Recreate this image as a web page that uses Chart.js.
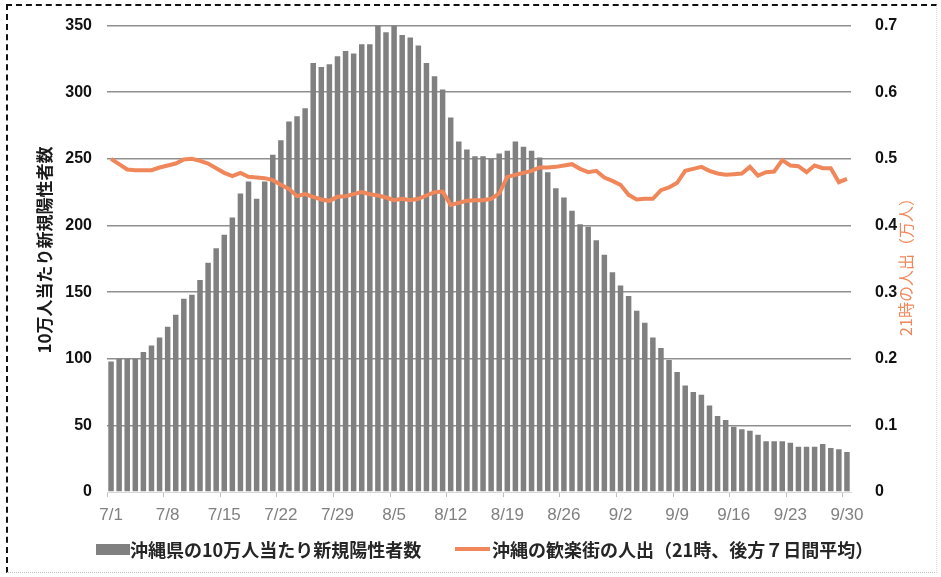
<!DOCTYPE html>
<html>
<head>
<meta charset="utf-8">
<script src="https://cdn.jsdelivr.net/npm/chart.js@4/dist/chart.umd.min.js"></script>
<style>
  html, body { margin: 0; padding: 0; background: #fff; }
  #wrap { position: relative; width: 941px; height: 577px; overflow: hidden; }
  #frame { position: absolute; left: 6px; top: 4px; width: 928px; height: 566px;
    border-top: 2px dashed #111; border-left: 2px dashed #111;
    border-bottom: 1px dotted #bbb; border-right: 1px dotted #ddd; }
  #chart { position: absolute; left: 0; top: 0; }
  .lg { position: absolute; top: 536px; display: flex; align-items: center; white-space: nowrap;
    font: bold 18px "Noto Sans CJK JP", sans-serif; color: #262626; }
  .lg .box { width: 34px; height: 11px; background: #808080; }
  .lg .ln { width: 35px; height: 4px; background: #F0875A; margin-right: 2px; }
</style>
</head>
<body>
<div id="wrap">
  <div id="frame"></div>
  <canvas id="chart" width="941" height="577"></canvas>
  <div class="lg" style="left:96px"><span class="box"></span><span id="lg1"></span></div>
  <div class="lg" style="left:455px"><span class="ln"></span><span id="lg2"></span></div>
</div>
<script>
// categories: 7/1 .. 9/30
const months = [7, 8, 9];
const monthDays = [31, 31, 30];
const dates = [];
months.forEach((m, i) => {
  for (let d = 1; d <= monthDays[i]; d++) dates.push(m + '/' + d);
});
const tickLabels = ['7/1', '7/8', '7/15', '7/22', '7/29', '8/5', '8/12', '8/19', '8/26', '9/2', '9/9', '9/16', '9/23', '9/30'];

// 沖縄県の10万人当たり新規陽性者数
const cases = [
  98, 100, 100, 100, 105, 110, 116, 124, 133, 145, 148, 159, 172, 183, 193, 206, 224, 233, 220, 233, 253, 264, 278,
  282, 288, 322, 319, 321, 327, 331, 329, 336, 336, 350, 345, 350, 343, 341, 335, 322, 312, 302, 281, 263, 257, 252,
  252, 250, 254, 256, 263, 259, 256, 251, 240, 228, 221, 211, 201, 199, 189, 178, 165, 155, 147, 136, 127, 116, 108, 99,
  90, 80, 75, 73, 65, 57, 54, 49, 47, 46, 43, 38, 38, 38, 37, 34, 34, 34, 36, 33, 32, 30
];

// 沖縄の歓楽街の人出（21時、後方７日間平均）, 万人
const crowd = [
  0.500, 0.492, 0.484, 0.483, 0.483, 0.483, 0.487, 0.490, 0.493, 0.499, 0.500, 0.497, 0.493, 0.486, 0.479, 0.474, 0.479, 0.473, 0.472, 0.471, 0.468, 0.461, 0.455,
  0.444, 0.447, 0.443, 0.439, 0.437, 0.443, 0.444, 0.447, 0.450, 0.447, 0.445, 0.442, 0.438, 0.440, 0.438, 0.440, 0.445, 0.450, 0.451, 0.431, 0.434, 0.437, 0.438,
  0.438, 0.440, 0.448, 0.473, 0.476, 0.479, 0.482, 0.487, 0.487, 0.488, 0.490, 0.492, 0.485, 0.480, 0.482, 0.472, 0.467, 0.461, 0.446, 0.439, 0.440, 0.440, 0.453, 0.457,
  0.464, 0.482, 0.485, 0.488, 0.482, 0.478, 0.476, 0.477, 0.478, 0.488, 0.475, 0.480, 0.481, 0.498, 0.490, 0.489, 0.480, 0.490, 0.486, 0.486, 0.465, 0.470
];

const casesLabel = '沖縄県の10万人当たり新規陽性者数';
const crowdLabel = '沖縄の歓楽街の人出（21時、後方７日間平均）';
const leftTitle = '10万人当たり新規陽性者数';
const rightTitle = '21時の人出（万人）';

const GRAY = '#808080';
const ORANGE = '#F0875A';

document.getElementById('lg1').textContent = casesLabel;
document.getElementById('lg2').textContent = crowdLabel;

const axisTitles = {
  id: 'axisTitles',
  afterDraw(chart) {
    const ctx = chart.ctx;
    ctx.save();
    ctx.textAlign = 'center';
    ctx.textBaseline = 'middle';
    ctx.translate(45, 250);
    ctx.rotate(-Math.PI / 2);
    ctx.font = 'bold 17px "Noto Sans CJK JP"';
    ctx.fillStyle = '#1a1a1a';
    ctx.fillText(leftTitle, 0, 0);
    ctx.restore();

    ctx.save();
    ctx.textAlign = 'center';
    ctx.textBaseline = 'middle';
    ctx.translate(906, 263);
    ctx.rotate(-Math.PI / 2);
    ctx.font = '16px "Noto Sans CJK JP"';
    ctx.fillStyle = ORANGE;
    ctx.fillText(rightTitle, 0, 0);
    ctx.restore();
  }
};

new Chart(document.getElementById('chart').getContext('2d'), {
  data: {
    labels: dates,
    datasets: [
      { type: 'line', label: crowdLabel, data: crowd, yAxisID: 'y1', order: 0,
        borderColor: ORANGE, borderWidth: 4, pointRadius: 0, tension: 0, fill: false },
      { type: 'bar', label: casesLabel, data: cases, yAxisID: 'y', order: 1,
        backgroundColor: GRAY, barPercentage: 0.68, categoryPercentage: 1 }
    ]
  },
  options: {
    responsive: false,
    animation: false,
    events: [],
    layout: { padding: { left: 0, right: 0, top: 24, bottom: 45 } },
    plugins: { legend: { display: false }, tooltip: { enabled: false } },
    scales: {
      x: {
        offset: true,
        afterFit: s => { s.height = 40; },
        grid: {
          offset: true, drawOnChartArea: false, drawTicks: true, tickLength: 5,
          color: c => (c.index % 7 === 0 ? '#bfbfbf' : 'rgba(0,0,0,0)')
        },
        border: { color: '#d9d9d9', width: 1 },
        ticks: {
          autoSkip: false, maxRotation: 0, padding: 8,
          color: '#808080', font: { family: '"Liberation Sans Narrow", "Liberation Sans"', size: 17 },
          callback: function (v, i) { const l = this.getLabelForValue(v); return tickLabels.includes(l) ? l : ''; }
        }
      },
      y: {
        position: 'left', min: 0, max: 350,
        afterFit: s => { s.width = 107; },
        grid: { drawTicks: false, lineWidth: 1.5, color: c => (c.tick.value === 0 ? 'rgba(0,0,0,0)' : '#8f8f8f') },
        border: { display: false },
        ticks: { stepSize: 50, padding: 15, color: '#111',
          font: { family: '"Liberation Sans"', size: 16, weight: 'bold' } }
      },
      y1: {
        position: 'right', min: 0, max: 0.7,
        afterFit: s => { s.width = 90; },
        grid: { display: false },
        border: { display: false },
        ticks: { stepSize: 0.1, padding: 16, color: '#111',
          font: { family: '"Liberation Sans"', size: 16, weight: 'bold' },
          callback: v => (v === 0 ? '0' : v.toFixed(1)) }
      }
    }
  },
  plugins: [axisTitles]
});
</script>
</body>
</html>
